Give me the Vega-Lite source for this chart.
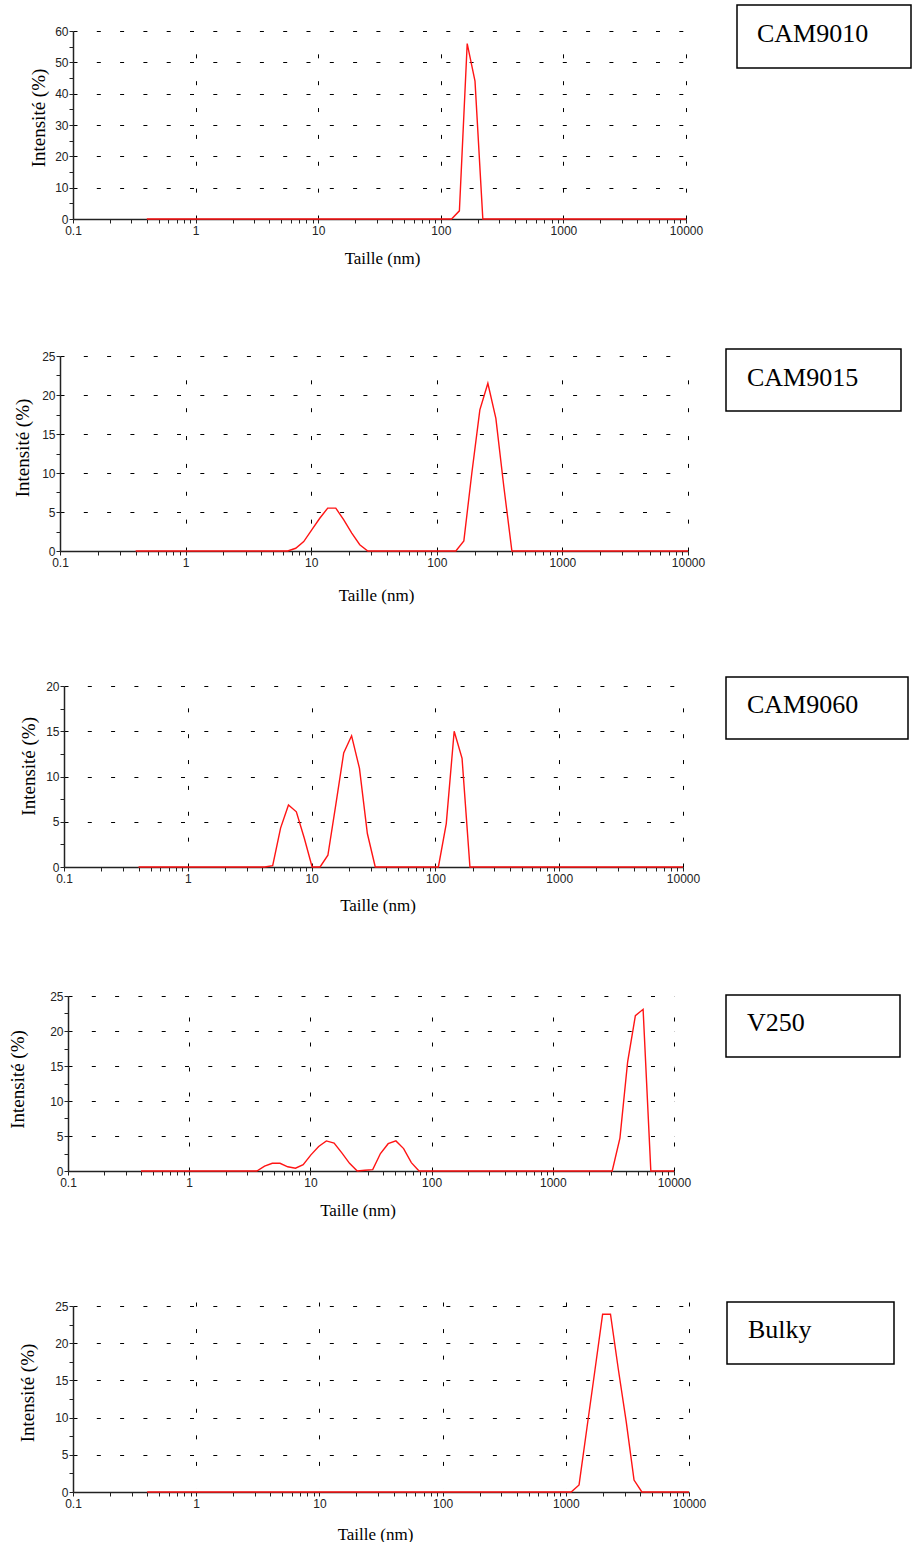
{
  "$schema": "https://vega.github.io/schema/vega-lite/v6.json",
  "padding": {"left": 5, "top": 4, "right": 0, "bottom": 0},
  "autosize": {"type": "pad"},
  "spacing": 0,
  "datasets": {
    "dls": [
      {"sample": "CAM9010", "size": 0.4, "intensity": 0},
      {"sample": "CAM9010", "size": 105.7, "intensity": 0},
      {"sample": "CAM9010", "size": 122.4, "intensity": 0},
      {"sample": "CAM9010", "size": 141.8, "intensity": 2.6},
      {"sample": "CAM9010", "size": 164.2, "intensity": 56},
      {"sample": "CAM9010", "size": 190.1, "intensity": 44},
      {"sample": "CAM9010", "size": 220.2, "intensity": 0},
      {"sample": "CAM9010", "size": 10000, "intensity": 0},

      {"sample": "CAM9015", "size": 0.4, "intensity": 0},
      {"sample": "CAM9015", "size": 6.503, "intensity": 0},
      {"sample": "CAM9015", "size": 7.531, "intensity": 0.35},
      {"sample": "CAM9015", "size": 8.721, "intensity": 1.2},
      {"sample": "CAM9015", "size": 10.1, "intensity": 2.7},
      {"sample": "CAM9015", "size": 11.7, "intensity": 4.2},
      {"sample": "CAM9015", "size": 13.54, "intensity": 5.5},
      {"sample": "CAM9015", "size": 15.69, "intensity": 5.5},
      {"sample": "CAM9015", "size": 18.17, "intensity": 4.0},
      {"sample": "CAM9015", "size": 21.04, "intensity": 2.3},
      {"sample": "CAM9015", "size": 24.36, "intensity": 0.8},
      {"sample": "CAM9015", "size": 28.21, "intensity": 0},
      {"sample": "CAM9015", "size": 141.8, "intensity": 0},
      {"sample": "CAM9015", "size": 164.2, "intensity": 1.3},
      {"sample": "CAM9015", "size": 190.1, "intensity": 10.0},
      {"sample": "CAM9015", "size": 220.2, "intensity": 18.1},
      {"sample": "CAM9015", "size": 255.0, "intensity": 21.5},
      {"sample": "CAM9015", "size": 295.3, "intensity": 17.0},
      {"sample": "CAM9015", "size": 342.0, "intensity": 8.2},
      {"sample": "CAM9015", "size": 396.1, "intensity": 0},
      {"sample": "CAM9015", "size": 10000, "intensity": 0},

      {"sample": "CAM9060", "size": 0.4, "intensity": 0},
      {"sample": "CAM9060", "size": 4.187, "intensity": 0},
      {"sample": "CAM9060", "size": 4.849, "intensity": 0.15},
      {"sample": "CAM9060", "size": 5.615, "intensity": 4.3},
      {"sample": "CAM9060", "size": 6.503, "intensity": 6.85},
      {"sample": "CAM9060", "size": 7.531, "intensity": 6.1},
      {"sample": "CAM9060", "size": 8.721, "intensity": 3.2},
      {"sample": "CAM9060", "size": 10.1, "intensity": 0},
      {"sample": "CAM9060", "size": 11.7, "intensity": 0},
      {"sample": "CAM9060", "size": 13.54, "intensity": 1.3},
      {"sample": "CAM9060", "size": 15.69, "intensity": 6.9},
      {"sample": "CAM9060", "size": 18.17, "intensity": 12.6},
      {"sample": "CAM9060", "size": 21.04, "intensity": 14.5},
      {"sample": "CAM9060", "size": 24.36, "intensity": 10.9},
      {"sample": "CAM9060", "size": 28.21, "intensity": 3.7},
      {"sample": "CAM9060", "size": 32.67, "intensity": 0},
      {"sample": "CAM9060", "size": 105.7, "intensity": 0},
      {"sample": "CAM9060", "size": 122.4, "intensity": 4.8},
      {"sample": "CAM9060", "size": 141.8, "intensity": 15.0},
      {"sample": "CAM9060", "size": 164.2, "intensity": 12.0},
      {"sample": "CAM9060", "size": 190.1, "intensity": 0},
      {"sample": "CAM9060", "size": 10000, "intensity": 0},

      {"sample": "V250", "size": 0.4, "intensity": 0},
      {"sample": "V250", "size": 3.615, "intensity": 0},
      {"sample": "V250", "size": 4.187, "intensity": 0.7},
      {"sample": "V250", "size": 4.849, "intensity": 1.1},
      {"sample": "V250", "size": 5.615, "intensity": 1.1},
      {"sample": "V250", "size": 6.503, "intensity": 0.6},
      {"sample": "V250", "size": 7.531, "intensity": 0.4},
      {"sample": "V250", "size": 8.721, "intensity": 0.9},
      {"sample": "V250", "size": 10.1, "intensity": 2.3},
      {"sample": "V250", "size": 11.7, "intensity": 3.5},
      {"sample": "V250", "size": 13.54, "intensity": 4.3},
      {"sample": "V250", "size": 15.69, "intensity": 4.0},
      {"sample": "V250", "size": 18.17, "intensity": 2.6},
      {"sample": "V250", "size": 21.04, "intensity": 1.1},
      {"sample": "V250", "size": 24.36, "intensity": 0},
      {"sample": "V250", "size": 28.21, "intensity": 0.1},
      {"sample": "V250", "size": 32.67, "intensity": 0.2},
      {"sample": "V250", "size": 37.84, "intensity": 2.5},
      {"sample": "V250", "size": 43.82, "intensity": 3.9},
      {"sample": "V250", "size": 50.75, "intensity": 4.3},
      {"sample": "V250", "size": 58.77, "intensity": 3.2},
      {"sample": "V250", "size": 68.06, "intensity": 1.2},
      {"sample": "V250", "size": 78.82, "intensity": 0},
      {"sample": "V250", "size": 3091, "intensity": 0},
      {"sample": "V250", "size": 3580, "intensity": 4.7},
      {"sample": "V250", "size": 4145, "intensity": 15.6},
      {"sample": "V250", "size": 4801, "intensity": 22.2},
      {"sample": "V250", "size": 5560, "intensity": 23.1},
      {"sample": "V250", "size": 6439, "intensity": 0},
      {"sample": "V250", "size": 10000, "intensity": 0},

      {"sample": "Bulky", "size": 0.4, "intensity": 0},
      {"sample": "Bulky", "size": 1106, "intensity": 0},
      {"sample": "Bulky", "size": 1281, "intensity": 0.95},
      {"sample": "Bulky", "size": 1484, "intensity": 8.6},
      {"sample": "Bulky", "size": 1718, "intensity": 16.2},
      {"sample": "Bulky", "size": 1990, "intensity": 23.9},
      {"sample": "Bulky", "size": 2305, "intensity": 23.9},
      {"sample": "Bulky", "size": 2669, "intensity": 16.5},
      {"sample": "Bulky", "size": 3091, "intensity": 9.5},
      {"sample": "Bulky", "size": 3580, "intensity": 1.6},
      {"sample": "Bulky", "size": 4145, "intensity": 0},
      {"sample": "Bulky", "size": 10000, "intensity": 0}
    ]
  },
  "vconcat": [
    {
      "hconcat": [
        {
          "width": 732, "height": 343,
          "data": {"name": "dls"},
          "transform": [{"filter": "datum.sample === 'CAM9010'"}],
          "encoding": {
            "y": {"field": "intensity", "type": "quantitative",
              "scale": {"domain": [0, 60], "range": [214, 26], "nice": false},
              "axis": {"title": "Intensité (%)",
                "values": [0,5,10,15,20,25,30,35,40,45,50,55,60],
                "labelExpr": "datum.value % 10 === 0 ? datum.label : ''",
                "grid": true, "gridDash": [4, 19.3],
                "gridOpacity": {"condition": {"test": "datum.value % 10 === 0 && datum.value > 0", "value": 1}, "value": 0},
                "offset": -68, "titleX": -34.7, "titleY": 112.5, "titleBaseline": "middle", "labelPadding": 1}}
          },
          "layer": [
            {
              "mark": {"type": "line", "strokeOpacity": 0},
              "encoding": {
                "x": {"field": "size", "type": "quantitative",
                  "scale": {"type": "log", "domain": [0.1, 10000], "range": [68, 681], "nice": false},
                  "axis": {"orient": "top", "values": [1, 10, 100, 1000, 10000], "grid": true, "gridDash": [4, 22.86],
                    "domain": false, "ticks": false, "labels": false, "title": null}}
              }
            },
            {
              "mark": {"type": "line", "color": "#ff1414", "strokeWidth": 1.4},
              "encoding": {
                "x": {"field": "size", "type": "quantitative",
                  "scale": {"type": "log", "domain": [0.1, 10000], "range": [68, 681], "nice": false},
                  "axis": {"orient": "bottom", "title": "Taille (nm)", "format": "~g",
                    "values": [0.1,0.2,0.3,0.4,0.5,0.6,0.7,0.8,0.9,1,2,3,4,5,6,7,8,9,10,20,30,40,50,60,70,80,90,100,200,300,400,500,600,700,800,900,1000,2000,3000,4000,5000,6000,7000,8000,9000,10000],
                    "labelExpr": "indexof([0.1,1,10,100,1000,10000], datum.value) >= 0 ? datum.label : ''",
                    "grid": false,
                    "offset": -129, "titleX": 377, "titleY": 39, "titleBaseline": "middle", "labelPadding": 2}}
              }
            }
          ],
          "resolve": {"axis": {"x": "independent"}}
        },
        {
          "width": 174, "height": 63,
          "view": {"stroke": "#000", "strokeWidth": 1.5},
          "data": {"values": [{"sample": "CAM9010"}]},
          "mark": {"type": "text", "align": "left", "baseline": "alphabetic", "font": "Liberation Serif", "fontSize": 26, "color": "#000"},
          "encoding": {"text": {"field": "sample"}, "x": {"value": 20}, "y": {"value": 37}}
        }
      ],
      "spacing": 0,
      "bounds": "flush"
    },
    {
      "hconcat": [
        {
          "width": 721, "height": 327,
          "data": {"name": "dls"},
          "transform": [{"filter": "datum.sample === 'CAM9015'"}],
          "encoding": {
            "y": {"field": "intensity", "type": "quantitative",
              "scale": {"domain": [0, 25], "range": [202, 7], "nice": false},
              "axis": {"title": "Intensité (%)",
                "values": [0,2.5,5,7.5,10,12.5,15,17.5,20,22.5,25],
                "labelExpr": "datum.value % 5 === 0 ? datum.label : ''",
                "grid": true, "gridDash": [4, 19.3],
                "gridOpacity": {"condition": {"test": "datum.value % 5 === 0 && datum.value > 0", "value": 1}, "value": 0},
                "offset": -55, "titleX": -37.5, "titleY": 98.5, "titleBaseline": "middle", "labelPadding": 1}}
          },
          "layer": [
            {
              "mark": {"type": "line", "strokeOpacity": 0},
              "encoding": {
                "x": {"field": "size", "type": "quantitative",
                  "scale": {"type": "log", "domain": [0.1, 10000], "range": [55, 683], "nice": false},
                  "axis": {"orient": "top", "values": [1, 10, 100, 1000, 10000], "grid": true, "gridDash": [4, 23.86],
                    "domain": false, "ticks": false, "labels": false, "title": null}}
              }
            },
            {
              "mark": {"type": "line", "color": "#ff1414", "strokeWidth": 1.4},
              "encoding": {
                "x": {"field": "size", "type": "quantitative",
                  "scale": {"type": "log", "domain": [0.1, 10000], "range": [55, 683], "nice": false},
                  "axis": {"orient": "bottom", "title": "Taille (nm)", "format": "~g",
                    "values": [0.1,0.2,0.3,0.4,0.5,0.6,0.7,0.8,0.9,1,2,3,4,5,6,7,8,9,10,20,30,40,50,60,70,80,90,100,200,300,400,500,600,700,800,900,1000,2000,3000,4000,5000,6000,7000,8000,9000,10000],
                    "labelExpr": "indexof([0.1,1,10,100,1000,10000], datum.value) >= 0 ? datum.label : ''",
                    "grid": false,
                    "offset": -125, "titleX": 371, "titleY": 44, "titleBaseline": "middle", "labelPadding": 2}}
              }
            }
          ],
          "resolve": {"axis": {"x": "independent"}}
        },
        {
          "width": 175, "height": 62,
          "view": {"stroke": "#000", "strokeWidth": 1.5},
          "data": {"values": [{"sample": "CAM9015"}]},
          "mark": {"type": "text", "align": "left", "baseline": "alphabetic", "font": "Liberation Serif", "fontSize": 26, "color": "#000"},
          "encoding": {"text": {"field": "sample"}, "x": {"value": 21}, "y": {"value": 37}}
        }
      ],
      "spacing": 0,
      "bounds": "flush"
    },
    {
      "hconcat": [
        {
          "width": 721, "height": 313,
          "data": {"name": "dls"},
          "transform": [{"filter": "datum.sample === 'CAM9060'"}],
          "encoding": {
            "y": {"field": "intensity", "type": "quantitative",
              "scale": {"domain": [0, 20], "range": [190, 9], "nice": false},
              "axis": {"title": "Intensité (%)",
                "values": [0,2.5,5,7.5,10,12.5,15,17.5,20],
                "labelExpr": "datum.value % 5 === 0 ? datum.label : ''",
                "grid": true, "gridDash": [4, 19.3],
                "gridOpacity": {"condition": {"test": "datum.value % 5 === 0 && datum.value > 0", "value": 1}, "value": 0},
                "offset": -59, "titleX": -35.7, "titleY": 88.8, "titleBaseline": "middle", "labelPadding": 1}}
          },
          "layer": [
            {
              "mark": {"type": "line", "strokeOpacity": 0},
              "encoding": {
                "x": {"field": "size", "type": "quantitative",
                  "scale": {"type": "log", "domain": [0.1, 10000], "range": [59, 678], "nice": false},
                  "axis": {"orient": "top", "values": [1, 10, 100, 1000, 10000], "grid": true, "gridDash": [4, 21.86],
                    "domain": false, "ticks": false, "labels": false, "title": null}}
              }
            },
            {
              "mark": {"type": "line", "color": "#ff1414", "strokeWidth": 1.4},
              "encoding": {
                "x": {"field": "size", "type": "quantitative",
                  "scale": {"type": "log", "domain": [0.1, 10000], "range": [59, 678], "nice": false},
                  "axis": {"orient": "bottom", "title": "Taille (nm)", "format": "~g",
                    "values": [0.1,0.2,0.3,0.4,0.5,0.6,0.7,0.8,0.9,1,2,3,4,5,6,7,8,9,10,20,30,40,50,60,70,80,90,100,200,300,400,500,600,700,800,900,1000,2000,3000,4000,5000,6000,7000,8000,9000,10000],
                    "labelExpr": "indexof([0.1,1,10,100,1000,10000], datum.value) >= 0 ? datum.label : ''",
                    "grid": false,
                    "offset": -123, "titleX": 372.5, "titleY": 38, "titleBaseline": "middle", "labelPadding": 2}}
              }
            }
          ],
          "resolve": {"axis": {"x": "independent"}}
        },
        {
          "width": 182, "height": 62,
          "view": {"stroke": "#000", "strokeWidth": 1.5},
          "data": {"values": [{"sample": "CAM9060"}]},
          "mark": {"type": "text", "align": "left", "baseline": "alphabetic", "font": "Liberation Serif", "fontSize": 26, "color": "#000"},
          "encoding": {"text": {"field": "sample"}, "x": {"value": 21}, "y": {"value": 36}}
        }
      ],
      "spacing": 0,
      "bounds": "flush"
    },
    {
      "hconcat": [
        {
          "width": 721, "height": 305,
          "data": {"name": "dls"},
          "transform": [{"filter": "datum.sample === 'V250'"}],
          "encoding": {
            "y": {"field": "intensity", "type": "quantitative",
              "scale": {"domain": [0, 25], "range": [176, 1], "nice": false},
              "axis": {"title": "Intensité (%)",
                "values": [0,2.5,5,7.5,10,12.5,15,17.5,20,22.5,25],
                "labelExpr": "datum.value % 5 === 0 ? datum.label : ''",
                "grid": true, "gridDash": [4, 19.3],
                "gridOpacity": {"condition": {"test": "datum.value % 5 === 0 && datum.value > 0", "value": 1}, "value": 0},
                "offset": -63, "titleX": -51, "titleY": 84, "titleBaseline": "middle", "labelPadding": 1}}
          },
          "layer": [
            {
              "mark": {"type": "line", "strokeOpacity": 0},
              "encoding": {
                "x": {"field": "size", "type": "quantitative",
                  "scale": {"type": "log", "domain": [0.1, 10000], "range": [63, 669], "nice": false},
                  "axis": {"orient": "top", "values": [1, 10, 100, 1000, 10000], "grid": true, "gridDash": [4, 21],
                    "domain": false, "ticks": false, "labels": false, "title": null}}
              }
            },
            {
              "mark": {"type": "line", "color": "#ff1414", "strokeWidth": 1.4},
              "encoding": {
                "x": {"field": "size", "type": "quantitative",
                  "scale": {"type": "log", "domain": [0.1, 10000], "range": [63, 669], "nice": false},
                  "axis": {"orient": "bottom", "title": "Taille (nm)", "format": "~g",
                    "values": [0.1,0.2,0.3,0.4,0.5,0.6,0.7,0.8,0.9,1,2,3,4,5,6,7,8,9,10,20,30,40,50,60,70,80,90,100,200,300,400,500,600,700,800,900,1000,2000,3000,4000,5000,6000,7000,8000,9000,10000],
                    "labelExpr": "indexof([0.1,1,10,100,1000,10000], datum.value) >= 0 ? datum.label : ''",
                    "grid": false,
                    "offset": -129, "titleX": 352.5, "titleY": 39, "titleBaseline": "middle", "labelPadding": 2}}
              }
            }
          ],
          "resolve": {"axis": {"x": "independent"}}
        },
        {
          "width": 174, "height": 62,
          "view": {"stroke": "#000", "strokeWidth": 1.5},
          "data": {"values": [{"sample": "V250"}]},
          "mark": {"type": "text", "align": "left", "baseline": "alphabetic", "font": "Liberation Serif", "fontSize": 26, "color": "#000"},
          "encoding": {"text": {"field": "sample"}, "x": {"value": 21}, "y": {"value": 36}}
        }
      ],
      "spacing": 0,
      "bounds": "flush"
    },
    {
      "hconcat": [
        {
          "width": 722, "height": 190,
          "data": {"name": "dls"},
          "transform": [{"filter": "datum.sample === 'Bulky'"}],
          "mark": {"type": "line", "color": "#ff1414", "strokeWidth": 1.4},
          "encoding": {
            "x": {"field": "size", "type": "quantitative",
              "scale": {"type": "log", "domain": [0.1, 10000], "range": [68, 684], "nice": false},
              "axis": {"title": "Taille (nm)", "format": "~g",
                "values": [0.1,0.2,0.3,0.4,0.5,0.6,0.7,0.8,0.9,1,2,3,4,5,6,7,8,9,10,20,30,40,50,60,70,80,90,100,200,300,400,500,600,700,800,900,1000,2000,3000,4000,5000,6000,7000,8000,9000,10000],
                "labelExpr": "indexof([0.1,1,10,100,1000,10000], datum.value) >= 0 ? datum.label : ''",
                "grid": true, "gridDash": [4, 22.57],
                "gridOpacity": {"condition": {"test": "indexof([1,10,100,1000,10000], datum.value) >= 0", "value": 1}, "value": 0},
                "titleX": 370, "titleY": 42, "titleBaseline": "middle", "labelPadding": 2}},
            "y": {"field": "intensity", "type": "quantitative",
              "scale": {"domain": [0, 25], "range": [190, 4], "nice": false},
              "axis": {"title": "Intensité (%)",
                "values": [0,2.5,5,7.5,10,12.5,15,17.5,20,22.5,25],
                "labelExpr": "datum.value % 5 === 0 ? datum.label : ''",
                "grid": true, "gridDash": [4, 19.3],
                "gridOpacity": {"condition": {"test": "datum.value % 5 === 0 && datum.value > 0", "value": 1}, "value": 0},
                "offset": -68, "titleX": -46, "titleY": 90.5, "titleBaseline": "middle", "labelPadding": 1}}
          }
        },
        {
          "width": 167, "height": 62,
          "view": {"stroke": "#000", "strokeWidth": 1.5},
          "data": {"values": [{"sample": "Bulky"}]},
          "mark": {"type": "text", "align": "left", "baseline": "alphabetic", "font": "Liberation Serif", "fontSize": 26, "color": "#000"},
          "encoding": {"text": {"field": "sample"}, "x": {"value": 21}, "y": {"value": 36}}
        }
      ],
      "spacing": 0,
      "bounds": "flush"
    }
  ],
  "config": {
    "view": {"stroke": null},
    "axis": {
      "labelFont": "Liberation Sans", "labelFontSize": 12, "labelColor": "#222",
      "titleFont": "Liberation Serif", "titleFontSize": 17, "titleFontWeight": "normal", "titleColor": "#000",
      "domainColor": "#222", "domainWidth": 1.5,
      "tickColor": "#222", "tickSize": 4, "tickWidth": 1,
      "gridColor": "#000", "gridWidth": 1,
      "labelFlush": false, "labelOverlap": false, "labelBound": false
    },
    "axisY": {"titleFontSize": 19}
  }
}
